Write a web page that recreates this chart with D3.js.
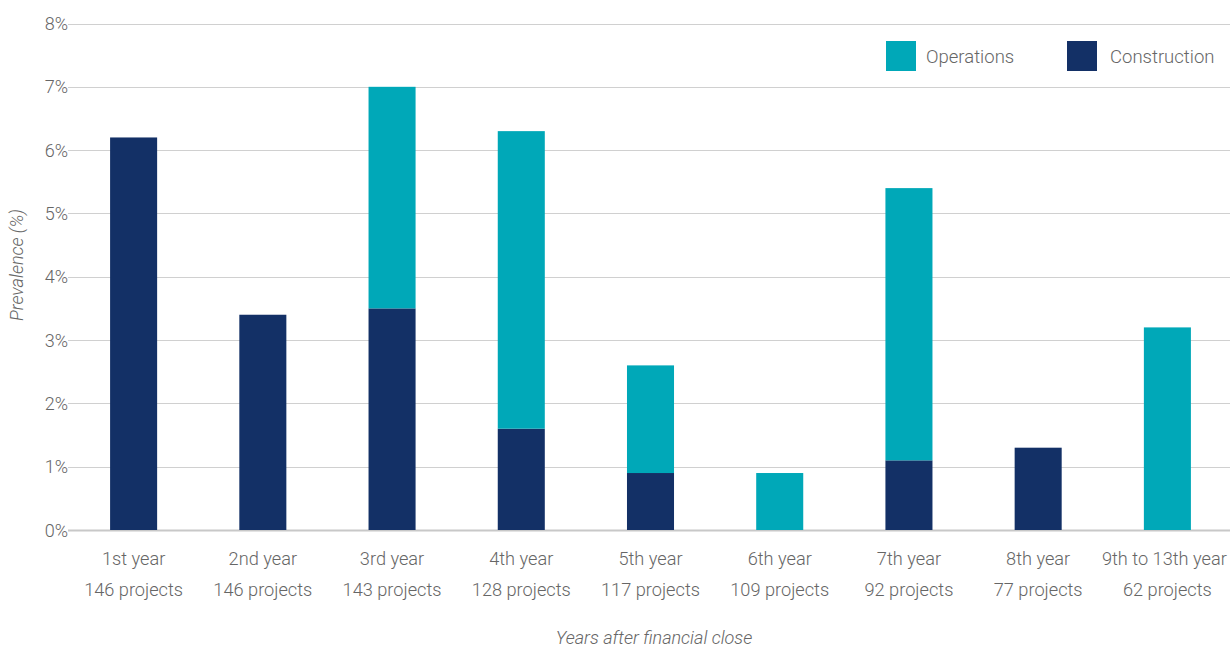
<!DOCTYPE html>
<html><head><meta charset="utf-8">
<script src="https://cdn.jsdelivr.net/npm/d3@7"></script>
<style>
body{margin:0;background:#fff;}
text{font-family:Roboto,"Noto Sans",sans-serif;font-weight:300;fill:#666;}
</style></head>
<body><svg id="c" width="1230" height="647"></svg>
<script>
const categories = ["1st year","2nd year","3rd year","4th year","5th year","6th year","7th year","8th year","9th to 13th year"];
const projects = ["146 projects","146 projects","143 projects","128 projects","117 projects","109 projects","92 projects","77 projects","62 projects"];
const construction = [6.2,3.4,3.5,1.6,0.9,0,1.1,1.3,0];
const operations = [0,0,3.5,4.7,1.7,0.9,4.3,0,3.2];
const yTicks = [0,1,2,3,4,5,6,7,8];
const seriesNames = ["Operations","Construction"];
const colors = {Construction:"#133066", Operations:"#00A8B8"};

const svg = d3.select("#c");
const x = d3.scaleBand().domain(categories).range([69,1232]).paddingInner(0.636).paddingOuter(0.318);
const y = d3.scaleLinear().domain([0,8]).range([530,23.5]);

svg.append("g").selectAll("line").data(yTicks).join("line")
  .attr("x1",68).attr("x2",1230).attr("y1",d=>Math.round(y(d))+0.5).attr("y2",d=>Math.round(y(d))+0.5)
  .attr("stroke",d=>d===0?"#c8c8c8":"#d0d0d0").attr("stroke-width",d=>d===0?2:1);

svg.append("g").selectAll("text").data(yTicks).join("text")
  .attr("x",68).attr("y",d=>y(d)+6.5).attr("text-anchor","end").attr("font-size",18)
  .text(d=>d+"%");

const data = categories.map((c,i)=>({c, Construction:construction[i], Operations:operations[i]}));
const stack = d3.stack().keys(["Construction","Operations"])(data);
svg.append("g").selectAll("g").data(stack).join("g").attr("fill",s=>colors[s.key])
  .selectAll("rect").data(s=>s).join("rect")
  .attr("x",d=>x(d.data.c)).attr("width",x.bandwidth())
  .attr("y",d=>y(d[1])).attr("height",d=>y(d[0])-y(d[1]));

const lab = svg.append("g").selectAll("text").data(categories).join("text")
  .attr("text-anchor","middle").attr("font-size",18.2);
lab.append("tspan").attr("x",(d,i)=>x(d)+x.bandwidth()/2-(i===8?3:0)).attr("y",565).text(d=>d);
lab.append("tspan").attr("x",d=>x(d)+x.bandwidth()/2).attr("y",596).text((d,i)=>projects[i]);

svg.append("text").attr("x",654).attr("y",644).attr("text-anchor","middle").attr("font-size",18)
  .attr("font-style","italic").text("Years after financial close");
svg.append("text").attr("transform","translate(23,265) rotate(-90)").attr("text-anchor","middle")
  .attr("font-size",18).attr("font-style","italic").text("Prevalence (%)");

const lx = [886,1067];
const lg = svg.append("g").selectAll("g").data(seriesNames).join("g")
  .attr("transform",(d,i)=>`translate(${lx[i]},41)`);
lg.append("rect").attr("width",30).attr("height",30).attr("fill",d=>colors[d]);
lg.append("text").attr("x",(d,i)=>i===0?40:43).attr("y",22).attr("font-size",18.5).text(d=>d);
</script></body></html>
